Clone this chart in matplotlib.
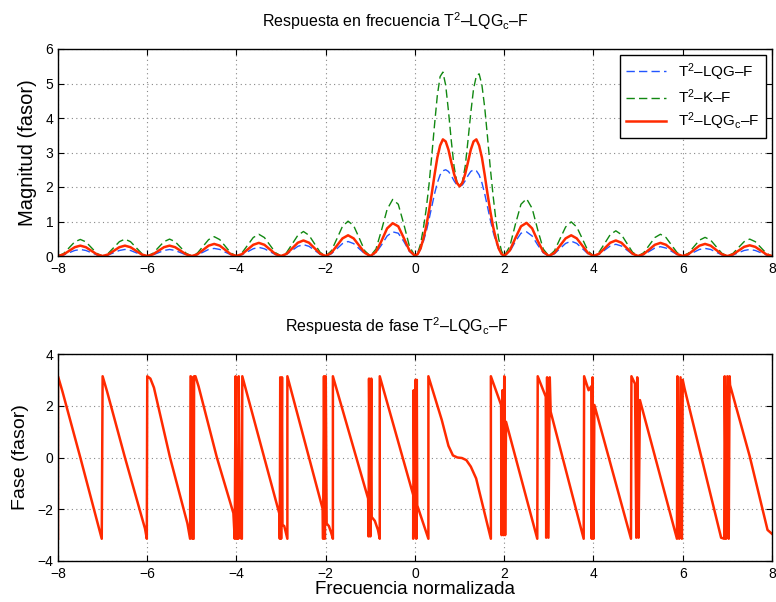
import numpy as np
import matplotlib
matplotlib.use("Agg")
import matplotlib.pyplot as plt

plt.rcParams['font.family'] = ['Liberation Sans', 'DejaVu Sans']
plt.rcParams['mathtext.fontset'] = 'custom'
plt.rcParams['mathtext.rm'] = 'Liberation Sans'
plt.rcParams['mathtext.it'] = 'Liberation Sans:italic'

# ---------------- data: magnitude ----------------
x_left = np.arange(-8, 0, 0.125)
x_main = np.arange(0, 2, 0.0625)
x_right = np.arange(2, 8.0001, 0.125)
freq = np.concatenate([x_left, x_main, x_right])

mag_lqg_left = [
    0, .03, .095, .16, .19, .16, .095, .03,
    0, .03, .095, .16, .19, .16, .095, .03,
    0, .03, .095, .16, .19, .16, .095, .03,
    0, .035, .11, .19, .22, .19, .11, .035,
    0, .04, .125, .21, .25, .21, .125, .04,
    0, .05, .165, .28, .33, .28, .165, .05,
    0, .065, .21, .36, .42, .36, .21, .065,
    0, .09, .32, .58, .70, .66, .42, .13]
mag_lqg_main = [0, .05, .2, .42, .7, 1.05, 1.42, 1.8, 2.12, 2.35, 2.47, 2.5, 2.45, 2.33, 2.18, 2.06,
                2.02, 2.06, 2.18, 2.33, 2.45, 2.5, 2.47, 2.35, 2.12, 1.8, 1.42, 1.05, .7, .42, .2, .05]
mag_lqg_right = [
    0, .13, .42, .66, .70, .58, .32, .09,
    0, .065, .215, .365, .43, .365, .215, .065,
    0, .05, .17, .29, .34, .29, .17, .05,
    0, .04, .135, .23, .27, .23, .135, .04,
    0, .035, .11, .19, .22, .19, .11, .035,
    0, .03, .095, .16, .19, .16, .095, .03,
    0]

mag_k_left = [
    0, .07, .24, .41, .48, .41, .24, .07,
    0, .075, .245, .415, .49, .415, .245, .075,
    0, .075, .245, .415, .49, .415, .245, .075,
    0, .085, .28, .475, .56, .475, .28, .085,
    0, .095, .315, .535, .63, .535, .315, .095,
    0, .105, .355, .60, .71, .60, .355, .105,
    0, .15, .5, .86, 1.01, .88, .52, .15,
    0, .2, .75, 1.35, 1.64, 1.5, .92, .28]
mag_k_main = [0, .1, .35, .8, 1.35, 2.05, 2.9, 3.8, 4.65, 5.2, 5.33, 4.95, 4.2, 3.35, 2.6, 2.15,
              2.02, 2.15, 2.6, 3.35, 4.15, 4.85, 5.22, 5.28, 4.95, 4.3, 3.45, 2.55, 1.75, 1.05, .5, .15]
mag_k_right = [
    0, .28, .92, 1.5, 1.66, 1.38, .76, .2,
    0, .15, .5, .84, .99, .84, .5, .15,
    0, .11, .365, .62, .73, .62, .365, .11,
    0, .095, .315, .535, .63, .535, .315, .095,
    0, .08, .27, .46, .54, .46, .27, .08,
    0, .075, .245, .415, .49, .415, .245, .075,
    0]

mag_lqgc_left = [
    0, .045, .15, .255, .30, .255, .15, .045,
    0, .045, .15, .255, .30, .255, .15, .045,
    0, .045, .15, .255, .30, .255, .15, .045,
    0, .05, .175, .30, .35, .30, .175, .05,
    0, .055, .19, .325, .38, .325, .19, .055,
    0, .065, .225, .385, .45, .385, .225, .065,
    0, .09, .30, .51, .60, .51, .30, .09,
    0, .12, .44, .80, .95, .86, .52, .16]
mag_lqgc_main = [0, .06, .22, .5, .85, 1.3, 1.8, 2.35, 2.85, 3.2, 3.38, 3.32, 3.08, 2.72, 2.38, 2.12,
                 2.02, 2.12, 2.38, 2.72, 3.08, 3.32, 3.38, 3.2, 2.85, 2.35, 1.8, 1.3, .85, .5, .22, .06]
mag_lqgc_right = [
    0, .16, .52, .86, .96, .80, .44, .12,
    0, .09, .30, .51, .60, .51, .30, .09,
    0, .065, .225, .385, .45, .385, .225, .065,
    0, .055, .19, .325, .38, .325, .19, .055,
    0, .05, .175, .30, .35, .30, .175, .05,
    0, .045, .155, .265, .31, .265, .155, .045,
    0]

mag_lqg = np.array(mag_lqg_left + mag_lqg_main + mag_lqg_right)
mag_k = np.array(mag_k_left + mag_k_main + mag_k_right)
mag_lqgc = np.array(mag_lqgc_left + mag_lqgc_main + mag_lqgc_right)

# ---------------- data: phase (vertices) ----------------
phase_x = [-8.0, -8.0, -7.9, -7.5, -7.02,
           -7.0, -6.9, -6.5, -6.05, -6.01,
           -6.0, -5.93, -5.85, -5.49, -5.1, -5.04,
           -5.03, -5.0, -4.99, -4.96, -4.95, -4.92, -4.85, -4.44, -4.07, -4.04,
           -4.02, -4.0, -3.96, -3.95, -3.92, -3.88, -3.87, -3.04,
           -3.03, -3.02, -3.0, -2.98, -2.97, -2.93, -2.88, -2.86,
           -2.86, -2.07, -2.06, -2.04, -2.02, -2.0, -1.98, -1.93, -1.88, -1.84,
           -1.84, -1.05, -1.04, -1.03, -1.0, -0.98, -0.97, -0.9, -0.83, -0.79,
           -0.79, -0.04, -0.04, -0.03, -0.01, 0.0, 0.01, 0.03, 0.04, 0.05, 0.3,
           0.3, 0.6, 0.75, 0.85, 0.95, 1.05, 1.15, 1.25, 1.37, 1.7,
           1.7, 1.93, 1.94, 1.96, 1.98, 2.0, 2.02, 2.04, 2.74,
           2.75, 2.93, 2.94, 2.96, 2.99, 3.02, 3.04, 3.78,
           3.79, 3.89, 3.95, 3.96, 3.98, 4.0, 4.02, 4.84,
           4.85, 4.93, 4.96, 4.98, 5.01, 5.04, 5.87,
           5.88, 5.92, 5.95, 5.98, 6.0, 6.04, 6.86, 6.93,
           6.94, 6.97, 7.0, 7.03, 7.05, 7.06, 7.5, 7.9, 8.0]
phase_y = [-3.14, 3.14, 2.55, 0.0, -3.14,
           3.14, 2.55, 0.0, -2.75, -3.14,
           3.14, 3.05, 2.7, 0.0, -2.55, -3.14,
           3.14, 3.1, -3.14, -3.14, 3.14, 3.14, 2.75, 0.0, -2.15, -3.14,
           3.14, -3.14, -3.14, 3.14, -3.1, -3.14, 3.14, -2.17,
           -3.14, 3.1, -3.14, 3.1, -2.6, -2.65, -3.0, -3.14,
           3.14, -1.98, -3.14, 3.14, -3.14, 3.14, -2.55, -2.65, -2.9, -3.14,
           3.14, -1.59, -3.05, 3.05, -3.05, 3.05, -2.3, -2.45, -2.8, -3.14,
           3.14, -1.45, -3.14, 2.6, -2.0, -3.0, 3.0, -3.14, 3.0, -1.85, -3.14,
           3.14, 1.45, 0.45, 0.08, 0.0, -0.02, -0.1, -0.35, -0.81, -3.14,
           3.14, 2.03, -3.0, 2.6, -3.0, 3.14, -3.0, 1.38, -3.14,
           3.14, 2.35, -3.1, 3.1, -3.1, 3.1, 1.77, -3.14,
           3.14, 2.6, 2.75, -3.14, 3.1, -3.14, 2.03, -3.14,
           3.14, 2.85, -3.1, 3.1, -3.1, 2.22, -3.14,
           3.14, -3.14, 3.1, -3.14, 3.0, 2.67, -3.1, -3.14,
           3.14, -3.14, 3.14, -3.14, 3.14, 2.8, 0.05, -2.8, -2.95]

x_ticks = [-8, -6, -4, -2, 0, 2, 4, 6, 8]
mag_yticks = [0, 1, 2, 3, 4, 5, 6]
phase_yticks = [-4, -2, 0, 2, 4]

labels = ['T$^{2}$–LQG–F', 'T$^{2}$–K–F', 'T$^{2}$–LQG$_{\\mathrm{c}}$–F']

# ---------------- figure ----------------
fig = plt.figure(figsize=(7.76, 6.02), dpi=100)
ax1 = fig.add_axes([58 / 776, 1 - 256 / 602, 714 / 776, 207 / 602])
ax2 = fig.add_axes([58 / 776, 1 - 561 / 602, 714 / 776, 207 / 602])

blue = '#2255ff'
green = '#118811'
red = '#ff2a00'

ax1.plot(freq, mag_lqg, color=blue, lw=1.0, dashes=(6, 3), label=labels[0])
ax1.plot(freq, mag_k, color=green, lw=1.0, dashes=(6, 3), label=labels[1])
ax1.plot(freq, mag_lqgc, color=red, lw=1.8, label=labels[2])
ax1.set_xlim(-8, 8)
ax1.set_ylim(0, 6)
ax1.set_xticks(x_ticks)
ax1.set_yticks(mag_yticks)
ax1.set_ylabel('Magnitud (fasor)', fontsize=14.5, labelpad=6)
ax1.set_title('Respuesta en frecuencia T$^{2}$–LQG$_{\\mathrm{c}}$–F', fontsize=11.5, pad=15.5, x=0.472)
leg = ax1.legend(loc='upper right', fontsize=11, fancybox=False, framealpha=1,
                 edgecolor='black', borderaxespad=0.4, handlelength=2.6,
                 borderpad=0.4, labelspacing=0.3)
leg.get_frame().set_linewidth(1.0)

ax2.plot(phase_x, phase_y, color=red, lw=1.8)
ax2.set_xlim(-8, 8)
ax2.set_ylim(-4, 4)
ax2.set_xticks(x_ticks)
ax2.set_yticks(phase_yticks)
ax2.set_ylabel('Fase (fasor)', fontsize=14, labelpad=6)
ax2.set_xlabel('Frecuencia normalizada', fontsize=13.5, labelpad=0)
ax2.set_title('Respuesta de fase T$^{2}$–LQG$_{\\mathrm{c}}$–F', fontsize=11.5, pad=15.5, x=0.475)

for ax in (ax1, ax2):
    ax.grid(True, color='#888888', linestyle=(0, (1, 3)), linewidth=0.8)
    ax.tick_params(direction='in', top=True, right=True, length=4, labelsize=10, width=0.8)
    ax.tick_params(axis='x', pad=4.5)
    ax.set_xticklabels([str(t).replace('-', '−') for t in x_ticks])
    for s in ax.spines.values():
        s.set_linewidth(1.0)
ax1.set_yticklabels([str(t) for t in mag_yticks])
ax2.set_yticklabels([str(t).replace('-', '−') for t in phase_yticks])

fig.savefig('out.png', dpi=100)
